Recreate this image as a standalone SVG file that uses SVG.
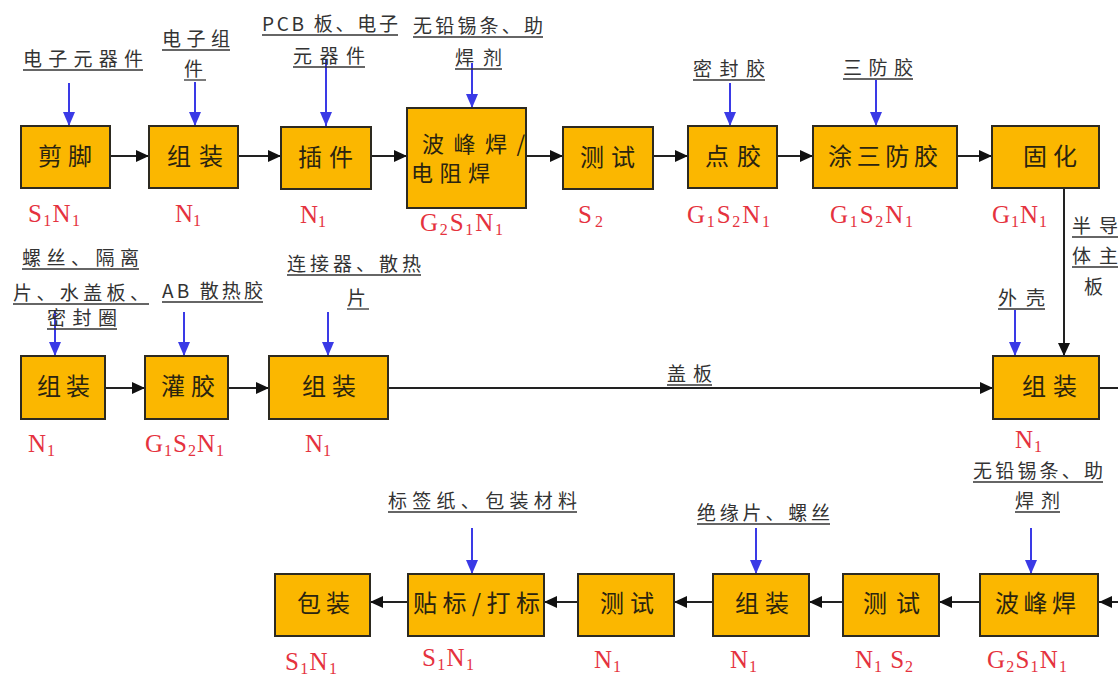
<svg xmlns="http://www.w3.org/2000/svg" width="1118" height="676" viewBox="0 0 1118 676">
<style>
.box{fill:#FBB700;stroke:#2d2a20;stroke-width:2}
.bt{font-family:"Noto Sans CJK SC","Noto Sans",sans-serif;font-size:24px;fill:#2a2410}
.in{font-family:"Noto Sans CJK SC","Noto Sans",sans-serif;font-size:19px;fill:#333}
.ul{stroke:#333;stroke-width:1.3}
.rd{font-family:"Liberation Serif","Noto Sans CJK SC",serif;font-size:25px;fill:#E5323E}
.sb{font-size:16px}
.ka{stroke:#222;stroke-width:2;fill:none;marker-end:url(#ka)}
.ba{stroke:#3a3ae6;stroke-width:2;fill:none;marker-end:url(#ba)}
</style>
<defs>
<marker id="ka" viewBox="0 0 13 12" refX="13" refY="6" markerWidth="13" markerHeight="12" orient="auto" markerUnits="userSpaceOnUse"><path d="M0,0 L13,6 L0,12 z" fill="#111"/></marker>
<marker id="ba" viewBox="0 0 14 12" refX="14" refY="6" markerWidth="14" markerHeight="12" orient="auto" markerUnits="userSpaceOnUse"><path d="M0,0 L14,6 L0,12 z" fill="#3a3ae6"/></marker>
</defs>
<rect width="1118" height="676" fill="#fff"/>

<g id="connectors">
<line class="ka" x1="110" y1="156" x2="149" y2="156"/>
<line class="ka" x1="238" y1="156" x2="281" y2="156"/>
<line class="ka" x1="371" y1="156" x2="407" y2="156"/>
<line class="ka" x1="526" y1="156" x2="563" y2="156"/>
<line class="ka" x1="653" y1="156" x2="688" y2="156"/>
<line class="ka" x1="777" y1="156" x2="813" y2="156"/>
<line class="ka" x1="957" y1="156" x2="992" y2="156"/>
<line class="ka" x1="1064" y1="188" x2="1064" y2="356"/>
<line class="ka" x1="105" y1="388" x2="145" y2="388"/>
<line class="ka" x1="228" y1="388" x2="269" y2="388"/>
<line class="ka" x1="388" y1="388" x2="993" y2="388"/>
<path class="ka" d="M1099,388 H1140 V602 H1099"/>
<line class="ka" x1="980" y1="602" x2="939" y2="602"/>
<line class="ka" x1="843" y1="602" x2="809" y2="602"/>
<line class="ka" x1="713" y1="602" x2="674" y2="602"/>
<line class="ka" x1="578" y1="602" x2="544" y2="602"/>
<line class="ka" x1="408" y1="602" x2="370" y2="602"/>
<line class="ba" x1="69" y1="83" x2="69" y2="126"/>
<line class="ba" x1="195" y1="82" x2="195" y2="126"/>
<line class="ba" x1="326" y1="60" x2="326" y2="126"/>
<line class="ba" x1="472" y1="63" x2="472" y2="108"/>
<line class="ba" x1="730" y1="83" x2="730" y2="126"/>
<line class="ba" x1="876" y1="80" x2="876" y2="126"/>
<line class="ba" x1="55" y1="310" x2="55" y2="356"/>
<line class="ba" x1="184" y1="312" x2="184" y2="356"/>
<line class="ba" x1="328" y1="312" x2="328" y2="356"/>
<line class="ba" x1="1015" y1="310" x2="1015" y2="356"/>
<line class="ba" x1="472" y1="528" x2="472" y2="574"/>
<line class="ba" x1="756" y1="528" x2="756" y2="574"/>
<line class="ba" x1="1031" y1="528" x2="1031" y2="574"/>
<text class="in" x="1072" y="233" textLength="46" lengthAdjust="spacing">半导</text>
<line class="ul" x1="1072" y1="237" x2="1118" y2="237"/>
<text class="in" x="1072" y="263" textLength="46" lengthAdjust="spacing">体主</text>
<line class="ul" x1="1072" y1="267" x2="1118" y2="267"/>
<text class="in" x="1084" y="294">板</text>
<text class="in" x="667" y="381" textLength="45" lengthAdjust="spacing">盖板</text>
<line class="ul" x1="667" y1="385" x2="712" y2="385"/>
</g>

<g id="inputs">
<text class="in" x="23" y="66" textLength="120" lengthAdjust="spacing">电子元器件</text>
<line class="ul" x1="23" y1="70" x2="143" y2="70"/>
<text class="in" x="162" y="46" textLength="68" lengthAdjust="spacing">电子组</text>
<line class="ul" x1="162" y1="50" x2="230" y2="50"/>
<text class="in" x="184" y="76">件</text>
<line class="ul" x1="184" y1="80" x2="206" y2="80"/>
<text class="in" x="262" y="31" textLength="136" lengthAdjust="spacing">PCB 板、电子</text>
<line class="ul" x1="262" y1="35" x2="398" y2="35"/>
<text class="in" x="293" y="63" textLength="72" lengthAdjust="spacing">元器件</text>
<line class="ul" x1="293" y1="67" x2="365" y2="67"/>
<text class="in" x="413" y="33" textLength="130" lengthAdjust="spacing">无铅锡条、助</text>
<line class="ul" x1="413" y1="37" x2="543" y2="37"/>
<text class="in" x="455" y="65" textLength="47" lengthAdjust="spacing">焊剂</text>
<line class="ul" x1="455" y1="69" x2="502" y2="69"/>
<text class="in" x="693" y="76" textLength="72" lengthAdjust="spacing">密封胶</text>
<line class="ul" x1="693" y1="80" x2="765" y2="80"/>
<text class="in" x="843" y="75" textLength="70" lengthAdjust="spacing">三防胶</text>
<line class="ul" x1="843" y1="79" x2="913" y2="79"/>
<text class="in" x="22" y="265" textLength="117" lengthAdjust="spacing">螺丝、隔离</text>
<line class="ul" x1="22" y1="269" x2="139" y2="269"/>
<text class="in" x="13" y="300" textLength="136" lengthAdjust="spacing">片、水盖板、</text>
<line class="ul" x1="13" y1="304" x2="149" y2="304"/>
<text class="in" x="47" y="325" textLength="70" lengthAdjust="spacing">密封圈</text>
<line class="ul" x1="47" y1="329" x2="117" y2="329"/>
<text class="in" x="162" y="298" textLength="101" lengthAdjust="spacing">AB 散热胶</text>
<line class="ul" x1="162" y1="302" x2="263" y2="302"/>
<text class="in" x="287" y="271" textLength="134" lengthAdjust="spacing">连接器、散热</text>
<line class="ul" x1="287" y1="275" x2="421" y2="275"/>
<text class="in" x="347" y="305">片</text>
<line class="ul" x1="347" y1="309" x2="369" y2="309"/>
<text class="in" x="998" y="305" textLength="47" lengthAdjust="spacing">外壳</text>
<line class="ul" x1="998" y1="309" x2="1045" y2="309"/>
<text class="in" x="388" y="508" textLength="189" lengthAdjust="spacing">标签纸、包装材料</text>
<line class="ul" x1="388" y1="512" x2="577" y2="512"/>
<text class="in" x="697" y="520" textLength="133" lengthAdjust="spacing">绝缘片、螺丝</text>
<line class="ul" x1="697" y1="524" x2="830" y2="524"/>
<text class="in" x="973" y="478" textLength="130" lengthAdjust="spacing">无铅锡条、助</text>
<line class="ul" x1="973" y1="482" x2="1103" y2="482"/>
<text class="in" x="1015" y="508" textLength="45" lengthAdjust="spacing">焊剂</text>
<line class="ul" x1="1015" y1="512" x2="1060" y2="512"/>
</g>

<g id="n1"><rect class="box" x="21" y="126" width="89" height="62"/><text class="bt" x="38" y="165" textLength="54" lengthAdjust="spacing">剪脚</text>
<text class="rd" x="28" y="222" textLength="52" lengthAdjust="spacing">S<tspan class="sb" dy="4">1</tspan><tspan dy="-4">N</tspan><tspan class="sb" dy="4">1</tspan></text></g>
<g id="n2"><rect class="box" x="149" y="126" width="89" height="62"/><text class="bt" x="167" y="165" textLength="56" lengthAdjust="spacing">组装</text>
<text class="rd" x="175" y="222" textLength="26" lengthAdjust="spacing">N<tspan class="sb" dy="4">1</tspan></text></g>
<g id="n3"><rect class="box" x="281" y="127" width="90" height="62"/><text class="bt" x="298" y="166" textLength="55" lengthAdjust="spacing">插件</text>
<text class="rd" x="300" y="223" textLength="26" lengthAdjust="spacing">N<tspan class="sb" dy="4">1</tspan></text></g>
<g id="n4"><rect class="box" x="407" y="108" width="119" height="100"/><text class="bt" style="font-size:22px"><tspan x="422" y="152" textLength="103" lengthAdjust="spacing">波峰焊/</tspan><tspan x="411" y="181" textLength="79" lengthAdjust="spacing">电阻焊</tspan></text>
<text class="rd" x="420" y="231" textLength="83" lengthAdjust="spacing">G<tspan class="sb" dy="4">2</tspan><tspan dy="-4">S</tspan><tspan class="sb" dy="4">1</tspan><tspan dy="-4">N</tspan><tspan class="sb" dy="4">1</tspan></text></g>
<g id="n5"><rect class="box" x="563" y="127" width="90" height="62"/><text class="bt" x="580" y="166" textLength="55" lengthAdjust="spacing">测试</text>
<text class="rd" x="578" y="223" textLength="25" lengthAdjust="spacing">S<tspan class="sb" dy="4">2</tspan></text></g>
<g id="n6"><rect class="box" x="688" y="126" width="89" height="62"/><text class="bt" x="705" y="165" textLength="56" lengthAdjust="spacing">点胶</text>
<text class="rd" x="687" y="223" textLength="83" lengthAdjust="spacing">G<tspan class="sb" dy="4">1</tspan><tspan dy="-4">S</tspan><tspan class="sb" dy="4">2</tspan><tspan dy="-4">N</tspan><tspan class="sb" dy="4">1</tspan></text></g>
<g id="n7"><rect class="box" x="813" y="126" width="144" height="62"/><text class="bt" x="828" y="165" textLength="110" lengthAdjust="spacing">涂三防胶</text>
<text class="rd" x="830" y="223" textLength="83" lengthAdjust="spacing">G<tspan class="sb" dy="4">1</tspan><tspan dy="-4">S</tspan><tspan class="sb" dy="4">2</tspan><tspan dy="-4">N</tspan><tspan class="sb" dy="4">1</tspan></text></g>
<g id="n8"><rect class="box" x="992" y="126" width="107" height="62"/><text class="bt" x="1023" y="165" textLength="54" lengthAdjust="spacing">固化</text>
<text class="rd" x="992" y="223" textLength="55" lengthAdjust="spacing">G<tspan class="sb" dy="4">1</tspan><tspan dy="-4">N</tspan><tspan class="sb" dy="4">1</tspan></text></g>

<g id="m1"><rect class="box" x="21" y="356" width="84" height="63"/><text class="bt" x="37" y="395" textLength="53" lengthAdjust="spacing">组装</text>
<text class="rd" x="28" y="452" textLength="27" lengthAdjust="spacing">N<tspan class="sb" dy="4">1</tspan></text></g>
<g id="m2"><rect class="box" x="145" y="356" width="83" height="63"/><text class="bt" x="161" y="395" textLength="54" lengthAdjust="spacing">灌胶</text>
<text class="rd" x="145" y="452" textLength="79" lengthAdjust="spacing">G<tspan class="sb" dy="4">1</tspan><tspan dy="-4">S</tspan><tspan class="sb" dy="4">2</tspan><tspan dy="-4">N</tspan><tspan class="sb" dy="4">1</tspan></text></g>
<g id="m3"><rect class="box" x="269" y="356" width="119" height="63"/><text class="bt" x="302" y="395" textLength="54" lengthAdjust="spacing">组装</text>
<text class="rd" x="305" y="452" textLength="26" lengthAdjust="spacing">N<tspan class="sb" dy="4">1</tspan></text></g>
<g id="m4"><rect class="box" x="993" y="356" width="106" height="63"/><text class="bt" x="1022" y="395" textLength="55" lengthAdjust="spacing">组装</text>
<text class="rd" x="1015" y="448" textLength="27" lengthAdjust="spacing">N<tspan class="sb" dy="4">1</tspan></text></g>

<g id="b1"><rect class="box" x="275" y="574" width="95" height="62"/><text class="bt" x="297" y="612" textLength="53" lengthAdjust="spacing">包装</text>
<text class="rd" x="285" y="670" textLength="52" lengthAdjust="spacing">S<tspan class="sb" dy="4">1</tspan><tspan dy="-4">N</tspan><tspan class="sb" dy="4">1</tspan></text></g>
<g id="b2"><rect class="box" x="408" y="574" width="136" height="62"/><text class="bt" x="413" y="612" textLength="127" lengthAdjust="spacing">贴标/打标</text>
<text class="rd" x="422" y="666" textLength="52" lengthAdjust="spacing">S<tspan class="sb" dy="4">1</tspan><tspan dy="-4">N</tspan><tspan class="sb" dy="4">1</tspan></text></g>
<g id="b3"><rect class="box" x="578" y="574" width="96" height="62"/><text class="bt" x="600" y="612" textLength="54" lengthAdjust="spacing">测试</text>
<text class="rd" x="594" y="668" textLength="27" lengthAdjust="spacing">N<tspan class="sb" dy="4">1</tspan></text></g>
<g id="b4"><rect class="box" x="713" y="574" width="96" height="62"/><text class="bt" x="735" y="612" textLength="54" lengthAdjust="spacing">组装</text>
<text class="rd" x="730" y="668" textLength="27" lengthAdjust="spacing">N<tspan class="sb" dy="4">1</tspan></text></g>
<g id="b5"><rect class="box" x="843" y="574" width="96" height="62"/><text class="bt" x="863" y="612" textLength="57" lengthAdjust="spacing">测试</text>
<text class="rd" x="855" y="668" textLength="58" lengthAdjust="spacing">N<tspan class="sb" dy="4">1</tspan><tspan dy="-4"> S</tspan><tspan class="sb" dy="4">2</tspan></text></g>
<g id="b6"><rect class="box" x="980" y="574" width="118" height="62"/><text class="bt" x="995" y="612" textLength="81" lengthAdjust="spacing">波峰焊</text>
<text class="rd" x="987" y="668" textLength="80" lengthAdjust="spacing">G<tspan class="sb" dy="4">2</tspan><tspan dy="-4">S</tspan><tspan class="sb" dy="4">1</tspan><tspan dy="-4">N</tspan><tspan class="sb" dy="4">1</tspan></text></g>
</svg>
